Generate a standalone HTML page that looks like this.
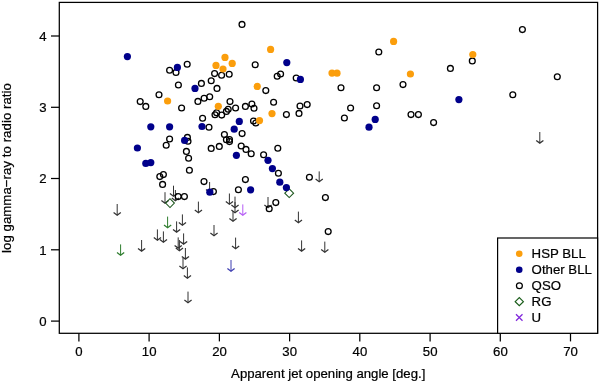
<!DOCTYPE html>
<html lang="en"><head><meta charset="utf-8"><title>Apparent jet opening angle vs log gamma-ray to radio ratio</title>
<style>html,body{margin:0;padding:0;background:#fff}body{width:600px;height:381px;overflow:hidden}svg{display:block;will-change:transform;transform:translateZ(0)}text{font-family:"Liberation Sans", "Helvetica", Arial, sans-serif;fill:#000;stroke:#000;stroke-width:.22px}</style></head><body>
<svg width="600" height="381" viewBox="0 0 600 381">
<rect width="600" height="381" fill="#fff"/>
<g fill="none" stroke-width="1" stroke-linecap="butt" stroke-linejoin="miter">
<path d="M209.6 182.0V192.2" stroke="#333"/><path d="M206.0 189.6L209.6 192.3L213.2 189.6" stroke="#333" stroke-width="1.25"/>
<path d="M175.4 190.0V200.6" stroke="#333"/><path d="M171.8 198.0L175.4 200.7L179.0 198.0" stroke="#333" stroke-width="1.25"/>
<path d="M117.2 204.0V215.2" stroke="#333"/><path d="M113.6 212.6L117.2 215.3L120.8 212.6" stroke="#333" stroke-width="1.25"/>
<path d="M173.5 185.7V196.1" stroke="#333"/><path d="M169.9 193.5L173.5 196.2L177.1 193.5" stroke="#333" stroke-width="1.25"/>
<path d="M165.0 192.2V203.1" stroke="#333"/><path d="M161.4 200.5L165.0 203.2L168.6 200.5" stroke="#333" stroke-width="1.25"/>
<path d="M198.4 201.6V212.6" stroke="#333"/><path d="M194.8 210.0L198.4 212.7L202.0 210.0" stroke="#333" stroke-width="1.25"/>
<path d="M182.4 214.4V225.2" stroke="#333"/><path d="M178.8 222.6L182.4 225.3L186.0 222.6" stroke="#333" stroke-width="1.25"/>
<path d="M176.6 221.4V232.0" stroke="#333"/><path d="M173.0 229.4L176.6 232.1L180.2 229.4" stroke="#333" stroke-width="1.25"/>
<path d="M214.0 225.0V235.6" stroke="#333"/><path d="M210.4 233.0L214.0 235.7L217.6 233.0" stroke="#333" stroke-width="1.25"/>
<path d="M157.4 229.4V240.2" stroke="#333"/><path d="M153.8 237.6L157.4 240.3L161.0 237.6" stroke="#333" stroke-width="1.25"/>
<path d="M163.4 231.4V242.2" stroke="#333"/><path d="M159.8 239.6L163.4 242.3L167.0 239.6" stroke="#333" stroke-width="1.25"/>
<path d="M183.6 233.4V244.0" stroke="#333"/><path d="M180.0 241.4L183.6 244.1L187.2 241.4" stroke="#333" stroke-width="1.25"/>
<path d="M178.2 237.4V248.0" stroke="#333"/><path d="M174.6 245.4L178.2 248.1L181.8 245.4" stroke="#333" stroke-width="1.25"/>
<path d="M179.4 240.0V250.6" stroke="#333"/><path d="M175.8 248.0L179.4 250.7L183.0 248.0" stroke="#333" stroke-width="1.25"/>
<path d="M141.6 240.0V251.0" stroke="#333"/><path d="M138.0 248.4L141.6 251.1L145.2 248.4" stroke="#333" stroke-width="1.25"/>
<path d="M185.4 248.0V259.0" stroke="#333"/><path d="M181.8 256.4L185.4 259.1L189.0 256.4" stroke="#333" stroke-width="1.25"/>
<path d="M183.0 258.0V268.6" stroke="#333"/><path d="M179.4 266.0L183.0 268.7L186.6 266.0" stroke="#333" stroke-width="1.25"/>
<path d="M187.4 267.4V278.2" stroke="#333"/><path d="M183.8 275.6L187.4 278.3L191.0 275.6" stroke="#333" stroke-width="1.25"/>
<path d="M188.0 291.6V302.6" stroke="#333"/><path d="M184.4 300.0L188.0 302.7L191.6 300.0" stroke="#333" stroke-width="1.25"/>
<path d="M319.2 171.4V181.6" stroke="#333"/><path d="M315.6 179.0L319.2 181.7L322.8 179.0" stroke="#333" stroke-width="1.25"/>
<path d="M229.4 193.5V204.2" stroke="#333"/><path d="M225.8 201.6L229.4 204.3L233.0 201.6" stroke="#333" stroke-width="1.25"/>
<path d="M235.0 196.6V207.6" stroke="#333"/><path d="M231.4 205.0L235.0 207.7L238.6 205.0" stroke="#333" stroke-width="1.25"/>
<path d="M235.0 202.0V212.6" stroke="#333"/><path d="M231.4 210.0L235.0 212.7L238.6 210.0" stroke="#333" stroke-width="1.25"/>
<path d="M268.0 197.0V207.6" stroke="#333"/><path d="M264.4 205.0L268.0 207.7L271.6 205.0" stroke="#333" stroke-width="1.25"/>
<path d="M233.0 211.0V221.2" stroke="#333"/><path d="M229.4 218.6L233.0 221.3L236.6 218.6" stroke="#333" stroke-width="1.25"/>
<path d="M298.4 211.6V222.6" stroke="#333"/><path d="M294.8 220.0L298.4 222.7L302.0 220.0" stroke="#333" stroke-width="1.25"/>
<path d="M235.6 237.6V248.6" stroke="#333"/><path d="M232.0 246.0L235.6 248.7L239.2 246.0" stroke="#333" stroke-width="1.25"/>
<path d="M301.6 240.4V251.0" stroke="#333"/><path d="M298.0 248.4L301.6 251.1L305.2 248.4" stroke="#333" stroke-width="1.25"/>
<path d="M324.8 241.6V252.2" stroke="#333"/><path d="M321.2 249.6L324.8 252.3L328.4 249.6" stroke="#333" stroke-width="1.25"/>
<path d="M539.8 132.0V143.0" stroke="#333"/><path d="M536.2 140.4L539.8 143.1L543.4 140.4" stroke="#333" stroke-width="1.25"/>
<path d="M167.6 216.6V227.6" stroke="#2e7d2e"/><path d="M164.0 225.0L167.6 227.7L171.2 225.0" stroke="#2e7d2e" stroke-width="1.25"/>
<path d="M120.6 244.4V255.2" stroke="#2e7d2e"/><path d="M117.0 252.6L120.6 255.3L124.2 252.6" stroke="#2e7d2e" stroke-width="1.25"/>
<path d="M242.8 204.4V215.2" stroke="#b55cf5"/><path d="M239.2 212.6L242.8 215.3L246.4 212.6" stroke="#b55cf5" stroke-width="1.25"/>
<path d="M231.0 260.0V271.2" stroke="#3c3cb0"/><path d="M227.4 268.6L231.0 271.3L234.6 268.6" stroke="#3c3cb0" stroke-width="1.25"/>
</g>
<g fill="none" stroke="#000" stroke-width="1.3">
<circle cx="169.6" cy="70.2" r="2.92"/>
<circle cx="176.0" cy="72.4" r="2.92"/>
<circle cx="187.2" cy="64.2" r="2.92"/>
<circle cx="214.6" cy="73.6" r="2.92"/>
<circle cx="211.2" cy="80.8" r="2.92"/>
<circle cx="201.4" cy="83.4" r="2.92"/>
<circle cx="178.4" cy="85.0" r="2.92"/>
<circle cx="221.6" cy="75.2" r="2.92"/>
<circle cx="217.0" cy="88.4" r="2.92"/>
<circle cx="159.0" cy="94.8" r="2.92"/>
<circle cx="140.2" cy="101.6" r="2.92"/>
<circle cx="145.8" cy="106.4" r="2.92"/>
<circle cx="181.6" cy="108.0" r="2.92"/>
<circle cx="197.9" cy="101.4" r="2.92"/>
<circle cx="204.1" cy="98.3" r="2.92"/>
<circle cx="209.7" cy="96.7" r="2.92"/>
<circle cx="216.6" cy="112.7" r="2.92"/>
<circle cx="215.0" cy="114.7" r="2.92"/>
<circle cx="221.7" cy="115.1" r="2.92"/>
<circle cx="202.6" cy="118.3" r="2.92"/>
<circle cx="209.0" cy="127.3" r="2.92"/>
<circle cx="169.6" cy="139.0" r="2.92"/>
<circle cx="166.2" cy="145.2" r="2.92"/>
<circle cx="187.4" cy="137.4" r="2.92"/>
<circle cx="188.0" cy="141.2" r="2.92"/>
<circle cx="211.2" cy="148.4" r="2.92"/>
<circle cx="219.3" cy="146.4" r="2.92"/>
<circle cx="186.4" cy="151.4" r="2.92"/>
<circle cx="188.6" cy="158.2" r="2.92"/>
<circle cx="189.4" cy="170.2" r="2.92"/>
<circle cx="163.4" cy="174.6" r="2.92"/>
<circle cx="159.8" cy="176.6" r="2.92"/>
<circle cx="162.6" cy="184.4" r="2.92"/>
<circle cx="204.0" cy="181.6" r="2.92"/>
<circle cx="213.4" cy="191.6" r="2.92"/>
<circle cx="178.2" cy="196.6" r="2.92"/>
<circle cx="184.4" cy="196.6" r="2.92"/>
<circle cx="242.0" cy="24.4" r="2.92"/>
<circle cx="255.2" cy="64.8" r="2.92"/>
<circle cx="229.2" cy="74.2" r="2.92"/>
<circle cx="280.6" cy="74.0" r="2.92"/>
<circle cx="277.2" cy="76.2" r="2.92"/>
<circle cx="296.2" cy="78.0" r="2.92"/>
<circle cx="265.8" cy="90.6" r="2.92"/>
<circle cx="230.0" cy="101.6" r="2.92"/>
<circle cx="273.6" cy="102.2" r="2.92"/>
<circle cx="251.9" cy="104.0" r="2.92"/>
<circle cx="245.4" cy="106.4" r="2.92"/>
<circle cx="254.0" cy="108.2" r="2.92"/>
<circle cx="235.6" cy="108.0" r="2.92"/>
<circle cx="228.2" cy="109.2" r="2.92"/>
<circle cx="226.4" cy="111.4" r="2.92"/>
<circle cx="307.2" cy="104.6" r="2.92"/>
<circle cx="300.0" cy="106.0" r="2.92"/>
<circle cx="299.0" cy="113.4" r="2.92"/>
<circle cx="286.4" cy="114.6" r="2.92"/>
<circle cx="253.5" cy="121.0" r="2.92"/>
<circle cx="255.8" cy="123.0" r="2.92"/>
<circle cx="242.1" cy="133.6" r="2.92"/>
<circle cx="224.4" cy="134.5" r="2.92"/>
<circle cx="226.4" cy="139.7" r="2.92"/>
<circle cx="229.5" cy="139.5" r="2.92"/>
<circle cx="229.5" cy="141.6" r="2.92"/>
<circle cx="241.2" cy="146.0" r="2.92"/>
<circle cx="246.0" cy="149.4" r="2.92"/>
<circle cx="277.8" cy="148.2" r="2.92"/>
<circle cx="251.2" cy="153.8" r="2.92"/>
<circle cx="263.6" cy="154.7" r="2.92"/>
<circle cx="278.4" cy="173.2" r="2.92"/>
<circle cx="245.4" cy="179.6" r="2.92"/>
<circle cx="309.4" cy="177.2" r="2.92"/>
<circle cx="238.4" cy="189.8" r="2.92"/>
<circle cx="325.4" cy="197.6" r="2.92"/>
<circle cx="275.8" cy="202.6" r="2.92"/>
<circle cx="269.2" cy="208.8" r="2.92"/>
<circle cx="328.2" cy="231.6" r="2.92"/>
<circle cx="378.8" cy="52.0" r="2.92"/>
<circle cx="403.0" cy="84.6" r="2.92"/>
<circle cx="341.0" cy="87.8" r="2.92"/>
<circle cx="376.6" cy="87.8" r="2.92"/>
<circle cx="350.6" cy="108.0" r="2.92"/>
<circle cx="376.6" cy="105.8" r="2.92"/>
<circle cx="344.4" cy="118.0" r="2.92"/>
<circle cx="411.0" cy="114.6" r="2.92"/>
<circle cx="418.4" cy="114.6" r="2.92"/>
<circle cx="433.6" cy="122.6" r="2.92"/>
<circle cx="522.4" cy="29.6" r="2.92"/>
<circle cx="472.3" cy="60.9" r="2.92"/>
<circle cx="450.4" cy="68.4" r="2.92"/>
<circle cx="557.3" cy="76.7" r="2.92"/>
<circle cx="512.8" cy="94.8" r="2.92"/>
</g>
<g fill="none" stroke="#1c561c" stroke-width="1.05">
<path d="M165.6 203.1L170.0 198.7L174.4 203.1L170.0 207.5Z"/>
<path d="M284.8 193.2L289.2 188.8L293.6 193.2L289.2 197.6Z"/>
</g>
<g fill="#00008b">
<circle cx="127.4" cy="56.6" r="3.6"/>
<circle cx="177.4" cy="67.4" r="3.6"/>
<circle cx="195.0" cy="88.4" r="3.6"/>
<circle cx="150.8" cy="126.8" r="3.6"/>
<circle cx="169.6" cy="126.8" r="3.6"/>
<circle cx="202.0" cy="126.5" r="3.6"/>
<circle cx="184.6" cy="140.4" r="3.6"/>
<circle cx="137.4" cy="148.0" r="3.6"/>
<circle cx="145.8" cy="163.4" r="3.6"/>
<circle cx="150.8" cy="162.6" r="3.6"/>
<circle cx="209.8" cy="192.2" r="3.6"/>
<circle cx="286.8" cy="62.6" r="3.6"/>
<circle cx="300.4" cy="79.4" r="3.6"/>
<circle cx="239.3" cy="121.4" r="3.6"/>
<circle cx="234.2" cy="129.2" r="3.6"/>
<circle cx="236.4" cy="155.3" r="3.6"/>
<circle cx="268.0" cy="160.3" r="3.6"/>
<circle cx="272.4" cy="168.6" r="3.6"/>
<circle cx="279.8" cy="182.2" r="3.6"/>
<circle cx="286.4" cy="187.6" r="3.6"/>
<circle cx="250.6" cy="189.8" r="3.6"/>
<circle cx="375.2" cy="119.4" r="3.6"/>
<circle cx="369.0" cy="127.2" r="3.6"/>
<circle cx="458.9" cy="99.6" r="3.6"/>
</g>
<g fill="#fb9e0c">
<circle cx="216.0" cy="65.4" r="3.6"/>
<circle cx="167.6" cy="101.0" r="3.6"/>
<circle cx="218.3" cy="106.3" r="3.6"/>
<circle cx="270.6" cy="49.4" r="3.6"/>
<circle cx="225.0" cy="57.4" r="3.6"/>
<circle cx="232.2" cy="63.4" r="3.6"/>
<circle cx="223.0" cy="69.0" r="3.6"/>
<circle cx="332.0" cy="73.1" r="3.6"/>
<circle cx="337.0" cy="73.2" r="3.6"/>
<circle cx="257.2" cy="86.4" r="3.6"/>
<circle cx="272.0" cy="113.6" r="3.6"/>
<circle cx="259.5" cy="120.6" r="3.6"/>
<circle cx="393.6" cy="41.4" r="3.6"/>
<circle cx="410.4" cy="74.0" r="3.6"/>
<circle cx="472.8" cy="54.5" r="3.6"/>
</g>
<g fill="none" stroke="#000" stroke-width="1.25">
<rect x="59.3" y="2.4" width="538.3" height="330.9"/>
<path d="M78.9 333.3V341.4"/>
<path d="M149.1 333.3V341.4"/>
<path d="M219.4 333.3V341.4"/>
<path d="M289.6 333.3V341.4"/>
<path d="M359.8 333.3V341.4"/>
<path d="M430.1 333.3V341.4"/>
<path d="M500.3 333.3V341.4"/>
<path d="M570.5 333.3V341.4"/>
<path d="M59.3 321.1H51.0"/>
<path d="M59.3 249.8H51.0"/>
<path d="M59.3 178.5H51.0"/>
<path d="M59.3 107.3H51.0"/>
<path d="M59.3 36.0H51.0"/>
</g>
<text transform="translate(79.0 355.6) scale(1 1.015)" font-size="13.2" text-anchor="middle">0</text>
<text transform="translate(149.2 355.6) scale(1 1.015)" font-size="13.2" text-anchor="middle">10</text>
<text transform="translate(219.5 355.6) scale(1 1.015)" font-size="13.2" text-anchor="middle">20</text>
<text transform="translate(289.7 355.6) scale(1 1.015)" font-size="13.2" text-anchor="middle">30</text>
<text transform="translate(359.9 355.6) scale(1 1.015)" font-size="13.2" text-anchor="middle">40</text>
<text transform="translate(430.2 355.6) scale(1 1.015)" font-size="13.2" text-anchor="middle">50</text>
<text transform="translate(500.4 355.6) scale(1 1.015)" font-size="13.2" text-anchor="middle">60</text>
<text transform="translate(570.6 355.6) scale(1 1.015)" font-size="13.2" text-anchor="middle">70</text>
<text transform="translate(42.8 325.8) scale(1 1.015)" font-size="13.2" text-anchor="middle">0</text>
<text transform="translate(42.8 254.5) scale(1 1.015)" font-size="13.2" text-anchor="middle">1</text>
<text transform="translate(42.8 183.2) scale(1 1.015)" font-size="13.2" text-anchor="middle">2</text>
<text transform="translate(42.8 112.0) scale(1 1.015)" font-size="13.2" text-anchor="middle">3</text>
<text transform="translate(42.8 40.7) scale(1 1.015)" font-size="13.2" text-anchor="middle">4</text>
<text transform="translate(328.2 377.6) scale(1 1.015)" font-size="13.2" text-anchor="middle">Apparent jet opening angle [deg.]</text>
<text letter-spacing=".065" transform="translate(11.4 168.0) rotate(-90) scale(1 1.015)" font-size="13.2" text-anchor="middle">log gamma−ray to radio ratio</text>
<rect x="497.6" y="238.0" width="100.0" height="95.3" fill="#fff" stroke="#000" stroke-width="1.2"/>
<circle cx="519.25" cy="253.7" r="3.3" fill="#fb9e0c"/>
<circle cx="519.25" cy="269.7" r="3.3" fill="#00008b"/>
<circle cx="519.4" cy="285.7" r="2.95" fill="none" stroke="#000" stroke-width="1.25"/>
<path d="M515.2 301.65L519.3 297.55L523.4 301.65L519.3 305.75Z" fill="none" stroke="#1b5e1b" stroke-width="1.2"/>
<path d="M516 314.3L522.5 320.8M516 320.8L522.5 314.3" fill="none" stroke="#8228dc" stroke-width="1.25"/>
<text transform="translate(531.6 258.3) scale(1 1.015)" font-size="13.25" text-anchor="start">HSP BLL</text>
<text transform="translate(531.6 274.3) scale(1 1.015)" font-size="13.25" text-anchor="start">Other BLL</text>
<text transform="translate(531.6 290.1) scale(1 1.015)" font-size="13.25" text-anchor="start">QSO</text>
<text transform="translate(531.6 306.1) scale(1 1.015)" font-size="13.25" text-anchor="start">RG</text>
<text transform="translate(531.6 322.2) scale(1 1.015)" font-size="13.25" text-anchor="start">U</text>
</svg></body></html>
